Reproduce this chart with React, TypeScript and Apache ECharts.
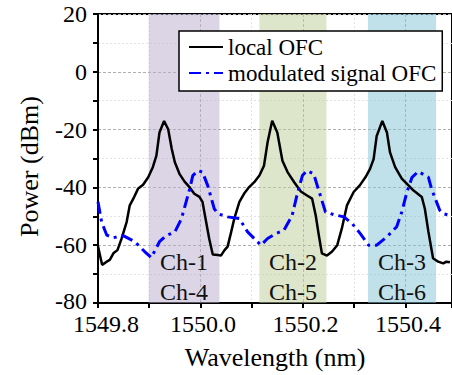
import React, { useEffect, useRef } from "react";
import * as echarts from "echarts";

// local OFC (black solid)
const localWl = [
  1549.8, 1549.808, 1549.817, 1549.823, 1549.83, 1549.838, 1549.846, 1549.856, 1549.862, 1549.869,
  1549.878, 1549.888, 1549.898, 1549.907, 1549.914, 1549.92, 1549.929, 1549.937, 1549.944, 1549.95,
  1549.959, 1549.969, 1549.979, 1549.988, 1549.998, 1550.004, 1550.011, 1550.017, 1550.024, 1550.034,
  1550.04, 1550.047, 1550.053, 1550.06, 1550.066, 1550.076, 1550.085, 1550.095, 1550.105, 1550.115,
  1550.124, 1550.131, 1550.14, 1550.15, 1550.16, 1550.17, 1550.183, 1550.196, 1550.208, 1550.218,
  1550.225, 1550.231, 1550.237, 1550.247, 1550.257, 1550.267, 1550.276, 1550.286, 1550.299, 1550.311,
  1550.322, 1550.331, 1550.338, 1550.344, 1550.355, 1550.364, 1550.37, 1550.38, 1550.393, 1550.406,
  1550.416, 1550.432, 1550.438, 1550.445, 1550.454, 1550.464, 1550.474, 1550.48, 1550.487,
];
const localPower = [
  -60.4, -66.8, -65.7, -65.1, -62.8, -61.7, -57.7, -51.9, -46.2, -43.9,
  -40.5, -39.1, -36.5, -33, -29, -21, -17, -19.9, -26.7, -31.3,
  -35.3, -38.0, -40.0, -42.2, -43.3, -45, -51.9, -57.7, -63.2, -63.4,
  -63.6, -61.7, -60.5, -55.4, -50.8, -45, -42.2, -39.9, -38.2, -35.9,
  -32.5, -24.4, -16.9, -21, -30.8, -34.7, -38.2, -41.4, -42.8, -43.9,
  -49.7, -56.5, -62.8, -63.6, -62.2, -60, -54.2, -46.2, -41.6, -39.3,
  -36.5, -33.6, -30.2, -22.2, -17, -21, -27.9, -33, -37, -39.3,
  -41.1, -43.3, -47.4, -55.4, -64.5, -65.7, -66.3, -65.7, -65.9,
];

// modulated signal OFC (blue dash-dot)
const modWl = [
  1549.8, 1549.807, 1549.817, 1549.83, 1549.849, 1549.872, 1549.891, 1549.904, 1549.92, 1549.933,
  1549.95, 1549.963, 1549.972, 1549.979, 1549.985, 1549.995, 1550.004, 1550.014, 1550.027, 1550.034,
  1550.053, 1550.076, 1550.092, 1550.108, 1550.118, 1550.131, 1550.147, 1550.163, 1550.179, 1550.189,
  1550.199, 1550.208, 1550.221, 1550.231, 1550.244, 1550.26, 1550.28, 1550.296, 1550.312, 1550.328,
  1550.344, 1550.364, 1550.383, 1550.393, 1550.403, 1550.413, 1550.425, 1550.445, 1550.451, 1550.467,
  1550.474, 1550.487,
];
const modPower = [
  -45, -51.9, -56.5, -57.4, -56.7, -58.8, -62.2, -64.3, -58.8, -56.7,
  -55.4, -50.8, -45, -40.5, -35.9, -34.2, -34.7, -39.3, -47.4, -49.1,
  -50.2, -50.8, -55.4, -58.2, -60, -57.7, -56, -54.8, -49.7, -42.2,
  -35.9, -34.2, -35.3, -41.1, -48.5, -49.4, -50.2, -52.5, -56, -60,
  -60, -57.1, -53.6, -48.5, -41.6, -36.5, -34.5, -36.5, -40.5, -47.9,
  -49.1, -49.7,
];

// channel bands
const bandStart = [1549.899, 1550.115, 1550.327];
const bandEnd = [1550.037, 1550.246, 1550.46];
const bandLabels = ["Ch-1\nCh-4", "Ch-2\nCh-5", "Ch-3\nCh-6"];

const yTicks = [20, 0, -20, -40, -60, -80];
const xMin = 1549.8;
const xMax = 1550.491;

const bandColors = [
  "rgba(186,172,206,0.5)",
  "rgba(188,206,150,0.5)",
  "rgba(130,196,214,0.5)",
];

const FONT = "'Liberation Serif', 'Times New Roman', serif";

export default function App() {
  const ref = useRef<HTMLDivElement>(null);
  useEffect(() => {
    document.body.style.margin = "0";
    if (!ref.current) return;
    const chart = echarts.init(ref.current, undefined, { renderer: "svg" });
    const localData = localWl.map((x, i) => [x, localPower[i]]);
    const modData = modWl.map((x, i) => [x, modPower[i]]);
    const areas = bandStart.map((s, i) => [
      {
        xAxis: s,
        itemStyle: { color: bandColors[i] },
        label: {
          show: true,
          formatter: bandLabels[i],
          position: "insideBottom",
          distance: 0,
          offset: [0, 4],
          fontFamily: FONT,
          fontSize: 24,
          lineHeight: 30,
          color: "#111",
        },
      },
      { xAxis: bandEnd[i] },
    ]);
    const tickText = { fontFamily: FONT, fontSize: 24, color: "#000" };
    const yMin = yTicks[yTicks.length - 1];
    chart.setOption({
      animation: false,
      textStyle: { fontFamily: FONT },
      grid: {
        left: 98, right: -2, top: 14, bottom: 70, containLabel: false,
        show: true, borderColor: "#000", borderWidth: 2, backgroundColor: "transparent",
      },
      legend: {
        orient: "vertical",
        left: 179,
        top: 31,
        itemWidth: 34,
        itemHeight: 14,
        itemGap: 0,
        padding: [3, 6, 5, 9],
        backgroundColor: "#fff",
        borderColor: "#000",
        borderWidth: 1.5,
        borderRadius: 0,
        itemStyle: { opacity: 0 },
        textStyle: { fontFamily: FONT, fontSize: 23, color: "#000", lineHeight: 26 },
        data: ["local OFC", "modulated signal OFC"],
      },
      xAxis: {
        type: "value",
        min: xMin,
        max: xMax,
        interval: 0.2,
        name: "Wavelength (nm)",
        nameLocation: "middle",
        nameGap: 41,
        nameTextStyle: { fontFamily: FONT, fontSize: 26, color: "#000" },
        axisLine: { onZero: false, lineStyle: { color: "#000", width: 2 } },
        axisTick: { show: true, inside: false, length: 5, lineStyle: { color: "#000", width: 2 } },
        minorTick: { show: true, splitNumber: 2, length: 5, lineStyle: { color: "#000", width: 2 } },
        axisLabel: {
          margin: 11,
          ...tickText,
          showMaxLabel: false,
          formatter: (v: number) =>
            Math.abs(v - xMin) < 1e-6 ? `{first|${v.toFixed(1)}}` : `{n|${v.toFixed(1)}}`,
          rich: {
            first: { ...tickText, lineHeight: 20, padding: [0, 0, 0, 16] },
            n: { ...tickText, lineHeight: 20, padding: [0, 0, 0, 5] },
          },
        },
        splitLine: { show: true, lineStyle: { color: "#b0b0b0", type: [3, 2], width: 1 } },
        minorSplitLine: { show: true, lineStyle: { color: "#e2e2e2", type: [2, 2], width: 1 } },
      },
      yAxis: {
        type: "value",
        min: yMin,
        max: yTicks[0],
        interval: 20,
        name: "Power (dBm)",
        nameLocation: "middle",
        nameGap: 56,
        nameTextStyle: { fontFamily: FONT, fontSize: 26, color: "#000", padding: [0, 16, 0, 0] },
        axisLine: { show: true, onZero: false, lineStyle: { color: "#000", width: 2 } },
        axisTick: { show: true, length: 5, lineStyle: { color: "#000", width: 2 } },
        minorTick: { show: true, splitNumber: 2, length: 5, lineStyle: { color: "#000", width: 2 } },
        axisLabel: {
          margin: 11,
          ...tickText,
          formatter: (v: number) => (v === yMin ? `{low|${v}}` : `{n|${v}}`),
          rich: {
            n: { ...tickText, lineHeight: 18 },
            low: { ...tickText, lineHeight: 18, padding: [0, 0, 4, 0] },
          },
        },
        splitLine: { show: true, lineStyle: { color: "#b0b0b0", type: [3, 2], width: 1 } },
        minorSplitLine: { show: true, lineStyle: { color: "#e2e2e2", type: [2, 2], width: 1 } },
      },
      series: [
        {
          name: "local OFC",
          type: "line",
          data: localData,
          symbol: "none",
          lineStyle: { color: "#000", width: 2.5 },
          itemStyle: { color: "#000" },
          z: 3,
          markArea: { silent: true, data: areas },
        },
        {
          name: "modulated signal OFC",
          type: "line",
          data: modData,
          symbol: "none",
          lineStyle: { color: "#0000ff", width: 3, type: [12, 5, 3, 5] },
          itemStyle: { color: "#0000ff" },
          z: 4,
        },
      ],
    });
    return () => chart.dispose();
  }, []);
  return <div ref={ref} style={{ width: 452, height: 375 }} />;
}
